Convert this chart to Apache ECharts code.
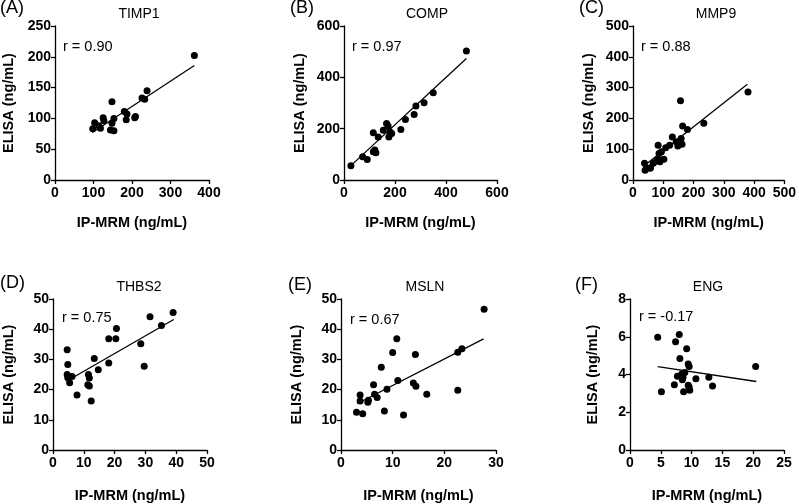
<!DOCTYPE html>
<html><head><meta charset="utf-8">
<script src="https://cdn.jsdelivr.net/npm/echarts@6/dist/echarts.min.js"></script>
<style>html,body{margin:0;padding:0;background:#fff}#c{width:799px;height:504px}</style>
</head><body><div id="c"></div>
<script>
// ---- data ----
const panelLetters = ["(A)","(B)","(C)","(D)","(E)","(F)"];
const panelTitles = ["TIMP1","COMP","MMP9","THBS2","MSLN","ENG"];
const rTexts = ["r = 0.90","r = 0.97","r = 0.88","r = 0.75","r = 0.67","r = -0.17"];

const timpX = [362,239,226,233,148,180,187,209,207,185,153,125,127,103,148,114,118,98,144,153];
const timpY = [202,145,133,131,127,111,107,103,101,98,100,101,96,93,92,88,84,83,81,80];
const timpFit = [[97,77],[362,186]];

const compX = [480,350,314,282,275,241,223,167,173,154,180,187,176,115,134,121,115,125,73,91,27];
const compY = [503,340,301,288,255,236,197,220,210,194,188,181,168,184,168,117,110,106,91,80,56];
const compFit = [[27,56],[480,473]];

const mmpX = [380,157,234,164,180,130,159,143,121,162,148,83,108,94,86,102,83,78,89,67,38,45,56,40,58];
const mmpY = [286,257,184,175,164,140,135,124,113,116,110,113,105,92,86,67,67,62,59,54,54,38,38,32,40];
const mmpFit = [[40,49],[378,311]];

const thbsX = [39.0,31.5,35.2,20.6,18.1,20.4,28.5,4.6,13.4,4.8,18.1,29.6,14.7,4.6,6.2,4.8,11.5,11.8,5.4,11.3,11.8,7.8,12.4];
const thbsY = [45.5,44.1,41.2,40.2,36.8,36.8,35.2,33.2,30.3,28.3,28.8,27.7,26.6,25.0,24.3,23.9,25.0,23.8,22.3,21.6,21.2,18.2,16.2];
const thbsFit = [[4.8,23.0],[39.2,43.2]];

const mslnX = [27.7,10.8,10.0,14.4,22.6,23.4,7.8,11.0,14.0,14.5,6.3,6.5,7.0,8.9,16.6,22.6,3.7,3.7,5.2,5.3,8.4,3.0,4.2,12.1];
const mslnY = [46.6,36.8,32.3,31.6,32.4,33.5,27.4,23.0,22.2,21.1,21.6,18.5,17.4,20.1,18.5,19.8,18.2,16.2,15.8,16.5,12.9,12.5,12.0,11.6];
const mslnFit = [[3.2,15.4],[27.6,36.8]];

const engX = [4.5,8.0,7.4,9.2,8.1,20.4,9.45,9.6,8.9,7.7,8.4,8.6,8.5,10.7,12.8,7.2,9.45,9.6,13.4,9.7,5.1,8.7];
const engY = [5.98,6.12,5.74,5.37,4.85,4.42,4.56,4.43,4.10,3.91,4.03,3.86,3.72,3.77,3.86,3.46,3.43,3.34,3.39,3.17,3.08,3.08];
const engFit = [[4.5,4.42],[20.5,3.63]];

const xMax = [400,600,500,50,30,25];
const xStep = [100,200,100,10,10,5];
const yMax = [250,600,500,50,50,8];
const yStep = [50,200,100,10,10,2];

const xs = [timpX,compX,mmpX,thbsX,mslnX,engX];
const ys = [timpY,compY,mmpY,thbsY,mslnY,engY];
const fits = [timpFit,compFit,mmpFit,thbsFit,mslnFit,engFit];

// ---- layout ----
const grids = [
  {left:54, top:26, width:155, height:154},
  {left:344, top:26, width:153, height:154},
  {left:633, top:26, width:154, height:154},
  {left:52, top:299, width:155, height:153},
  {left:341, top:299, width:155, height:153},
  {left:630, top:299, width:154, height:153}
];
const letterPos = [[0,-1],[290,-1],[579,-1],[0,274],[288,276],[575,276]];
const titlePos = [139,427,716,139,425,708];
const rPos = [[63,47],[352,47],[641,47],[62,318],[350,320],[639,317]];

const FONT = '"Liberation Sans", Arial, sans-serif';
const axisLine = {lineStyle:{color:'#000', width:1.3}};
const axisTick = {length:4, lineStyle:{color:'#000', width:1.3}};
const axisLabel = {color:'#000', fontWeight:'bold', fontSize:14, fontFamily:FONT, margin:4};
const nameStyle = {color:'#000', fontWeight:'bold', fontSize:14.5, fontFamily:FONT};

const option = {
  animation:false,
  backgroundColor:'#fff',
  grid: grids.map(g => Object.assign({containLabel:false}, g)),
  xAxis: grids.map((g,i) => ({
    gridIndex:i, type:'value', min:0, max:xMax[i], interval:xStep[i],
    axisLine, axisTick, axisLabel: Object.assign({}, axisLabel, {margin:6}), splitLine:{show:false},
    name:'IP-MRM (ng/mL)', nameLocation:'middle', nameGap:(i<3?35:38), nameTextStyle:nameStyle
  })),
  yAxis: grids.map((g,i) => ({
    gridIndex:i, type:'value', min:0, max:yMax[i], interval:yStep[i],
    axisLine, axisTick, axisLabel, splitLine:{show:false},
    name:'ELISA (ng/mL)', nameLocation:'middle', nameGap:[39,37,37,37,37,30][i], nameTextStyle:nameStyle
  })),
  series: [],
  graphic: []
};

for (let i=0;i<6;i++){
  option.series.push({
    type:'scatter', xAxisIndex:i, yAxisIndex:i, symbolSize:7,
    itemStyle:{color:'#000', opacity:1},
    data: xs[i].map((x,k)=>[x, ys[i][k]])
  });
  option.series.push({
    type:'line', xAxisIndex:i, yAxisIndex:i, symbol:'none',
    lineStyle:{color:'#000', width:1.3}, data: fits[i], z:3
  });
  option.graphic.push({type:'text', left:letterPos[i][0], top:letterPos[i][1],
    style:{text:panelLetters[i], font:'18px '+FONT, fill:'#000'}});
  option.graphic.push({type:'text', x:titlePos[i], y:(i<3?14:287),
    style:{text:panelTitles[i], font:'14px '+FONT, fill:'#000', align:'center', verticalAlign:'middle'}});
  option.graphic.push({type:'text', x:rPos[i][0], y:rPos[i][1],
    style:{text:rTexts[i], font:'14.5px '+FONT, fill:'#000', align:'left', verticalAlign:'middle'}});
}

const chart = echarts.init(document.getElementById('c'), null, {renderer:'canvas'});
chart.setOption(option);
</script>
</body></html>
